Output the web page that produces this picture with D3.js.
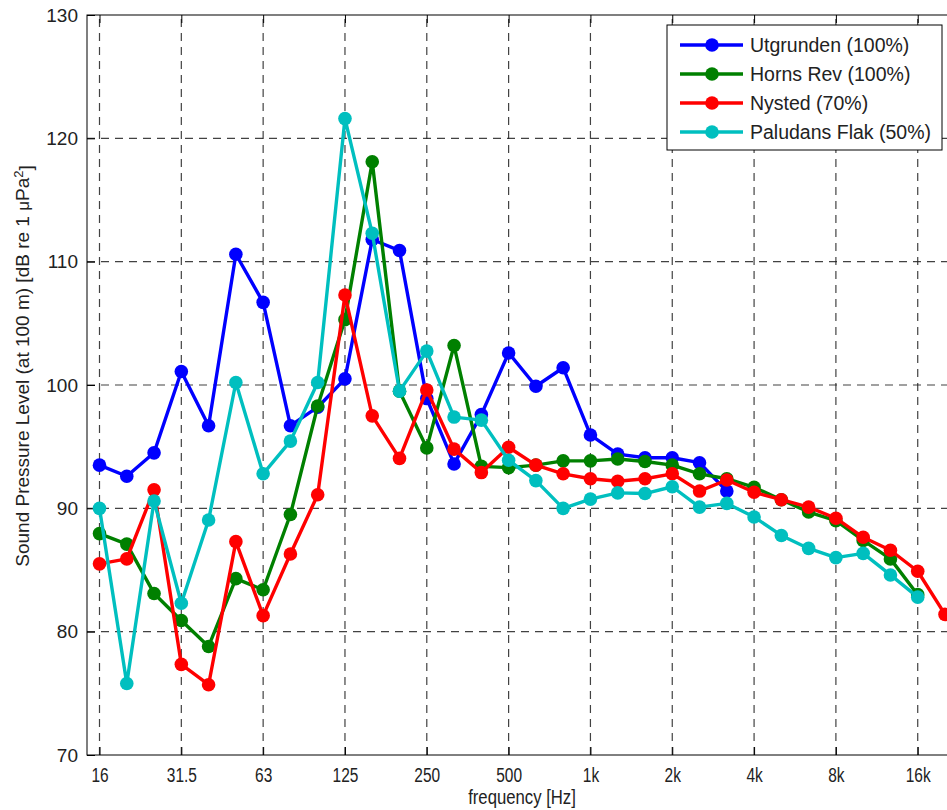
<!DOCTYPE html>
<html>
<head>
<meta charset="utf-8">
<script src="https://cdn.jsdelivr.net/npm/d3@7"></script>
<style>
  body { margin: 0; background: #fff; overflow: hidden; }
  svg { display: block; font-family: "Liberation Sans", Arial, sans-serif; }
  .grid line { stroke: #222; stroke-dasharray: 8,6; stroke-width: 1.2; opacity: 0.85; }
</style>
</head>
<body>
<svg id="chart"></svg>
<script>
// third-octave bands
const bands = ["16", "20", "25", "31.5", "40", "50", "63", "80", "100", "125", "160", "200", "250", "315", "400", "500",
  "630", "800", "1k", "1.25k", "1.6k", "2k", "2.5k", "3.15k", "4k", "5k", "6.3k", "8k", "10k", "12.5k", "16k", "20k"];

// levels in dB re 1 uPa^2 at 100 m, null = no value
const utgrunden = [93.5, 92.6, 94.5, 101.1, 96.7, 110.6, 106.7, 96.7, 98.2, 100.5, 111.8, 110.9,
  98.9, 93.6, 97.6, 102.6, 99.9, 101.4, 95.95, 94.4, 94.1, 94.1, 93.7, 91.4,
  null, null, null, null, null, null, null, null];
const hornsRev = [87.95, 87.1, 83.1, 80.9, 78.8, 84.3, 83.4, 89.5, 98.3, 105.3, 118.1, 99.5,
  94.9, 103.2, 93.4, 93.3, 93.5, 93.85, 93.85, 94.0, 93.8, 93.5, 92.8, 92.4,
  91.7, 90.7, 89.7, 89.0, 87.4, 85.9, 83.0, null];
const nysted = [85.5, 85.9, 91.5, 77.35, 75.7, 87.3, 81.3, 86.3, 91.1, 107.3, 97.5, 94.05,
  99.6, 94.8, 92.9, 94.95, 93.5, 92.8, 92.4, 92.2, 92.4, 92.8, 91.4, 92.3,
  91.3, 90.7, 90.1, 89.2, 87.65, 86.6, 84.9, 81.4];
const paludansFlak = [90.0, 75.8, 90.6, 82.3, 89.05, 100.2, 92.8, 95.45, 100.2, 121.6, 112.3, 99.5,
  102.75, 97.4, 97.15, 93.9, 92.25, 90.0, 90.75, 91.25, 91.2, 91.75, 90.1, 90.4,
  89.3, 87.8, 86.75, 86.0, 86.35, 84.6, 82.8, null];

const seriesNames = ["Utgrunden (100%)", "Horns Rev (100%)", "Nysted (70%)", "Paludans Flak (50%)"];
const seriesColors = ["#0000ff", "#008000", "#ff0000", "#00bfbf"];
const seriesValues = [utgrunden, hornsRev, nysted, paludansFlak];

const xTicks = ["16", "31.5", "63", "125", "250", "500", "1k", "2k", "4k", "8k", "16k"];
const yTicks = [70, 80, 90, 100, 110, 120, 130];

const width = 947, height = 810;
const plotLeft = 87, plotRight = 952, plotTop = 15, plotBottom = 755;

const svg = d3.select("#chart").attr("width", width).attr("height", height);

const x = d3.scalePoint()
  .domain(bands)
  .range([99.5, 945]);

const y = d3.scaleLinear()
  .domain([70, 130])
  .range([plotBottom, plotTop]);

// grid
const grid = svg.append("g").attr("class", "grid");
grid.selectAll(".gx").data(xTicks).enter().append("line")
  .attr("x1", d => x(d)).attr("x2", d => x(d))
  .attr("y1", plotBottom).attr("y2", plotTop);
grid.selectAll(".gy").data(yTicks.slice(1, -1)).enter().append("line")
  .attr("x1", plotLeft).attr("x2", plotRight)
  .attr("y1", d => y(d)).attr("y2", d => y(d));

// frame
svg.append("rect")
  .attr("x", plotLeft).attr("y", plotTop)
  .attr("width", plotRight - plotLeft).attr("height", plotBottom - plotTop)
  .attr("fill", "none").attr("stroke", "#000").attr("stroke-width", 1);

// axes (matlab style, ticks inward)
svg.append("g")
  .attr("transform", `translate(0,${plotBottom})`)
  .call(d3.axisBottom(x).tickValues(xTicks).tickSizeInner(-8).tickSizeOuter(0).tickPadding(12))
  .call(g => g.select(".domain").remove())
  .call(g => g.selectAll(".tick line").attr("stroke", "#000"))
  .selectAll("text")
  .attr("fill", "#222")
  .attr("transform", "scale(0.86,1.1)")
  .style("font-size", "18px");

svg.append("g")
  .attr("transform", `translate(0,${plotTop})`)
  .call(d3.axisTop(x).tickValues(xTicks).tickFormat("").tickSizeInner(-8).tickSizeOuter(0))
  .call(g => g.select(".domain").remove());

svg.append("g")
  .attr("transform", `translate(${plotLeft},0)`)
  .call(d3.axisLeft(y).tickValues(yTicks).tickSizeInner(-8).tickSizeOuter(0).tickPadding(9))
  .call(g => g.select(".domain").remove())
  .selectAll("text")
  .attr("fill", "#222")
  .style("font-size", "19px");

// lines and markers
const line = d3.line()
  .defined(d => d.v !== null)
  .x(d => x(d.b))
  .y(d => y(d.v));

seriesValues.forEach((vals, k) => {
  const pts = bands.map((b, i) => ({ b: b, v: vals[i] }));
  svg.append("path")
    .datum(pts)
    .attr("fill", "none")
    .attr("stroke", seriesColors[k])
    .attr("stroke-width", 3.4)
    .attr("stroke-linejoin", "round")
    .attr("d", line);
  svg.append("g").selectAll("circle")
    .data(pts.filter(d => d.v !== null))
    .enter().append("circle")
    .attr("cx", d => x(d.b))
    .attr("cy", d => y(d.v))
    .attr("r", 6.8)
    .attr("fill", seriesColors[k]);
});

// axis titles
svg.append("text")
  .attr("transform", "translate(522,804) scale(0.88,1.1)")
  .attr("text-anchor", "middle")
  .attr("fill", "#222")
  .style("font-size", "19px")
  .text("frequency [Hz]");

const yTitle = svg.append("text")
  .attr("transform", "translate(29,366) rotate(-90)")
  .attr("text-anchor", "middle")
  .attr("fill", "#222")
  .style("font-size", "19px");
yTitle.append("tspan").text("Sound Pressure Level (at 100 m) [dB re 1 ");
yTitle.append("tspan").text("\u03bc").style("font-size", "17px");
yTitle.append("tspan").text("Pa");
yTitle.append("tspan").text("2").attr("dy", "-0.5em").style("font-size", "13px");
yTitle.append("tspan").text("]").attr("dy", "0.5em");

// legend
const legend = svg.append("g").attr("transform", "translate(667,25)");
legend.append("rect")
  .attr("width", 275).attr("height", 125)
  .attr("fill", "#fff").attr("stroke", "#000").attr("stroke-width", 1);
seriesNames.forEach((name, k) => {
  const ly = 20 + k * 29;
  legend.append("line")
    .attr("x1", 13).attr("x2", 76).attr("y1", ly).attr("y2", ly)
    .attr("stroke", seriesColors[k]).attr("stroke-width", 3.4);
  legend.append("circle")
    .attr("cx", 45).attr("cy", ly).attr("r", 6.8)
    .attr("fill", seriesColors[k]);
  legend.append("text")
    .attr("x", 83).attr("y", ly + 7)
    .attr("fill", "#222")
    .style("font-size", "19.5px")
    .text(name);
});
</script>
</body>
</html>
